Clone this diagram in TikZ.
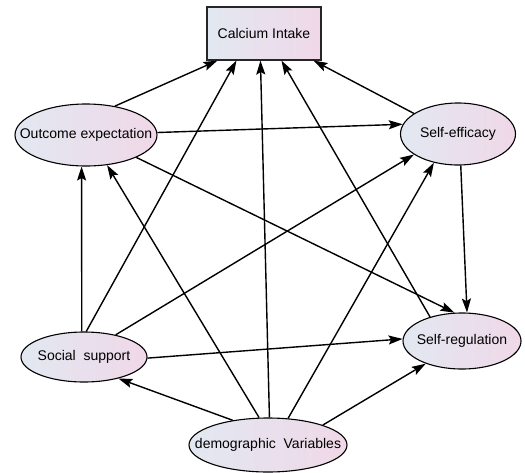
\documentclass[tikz,border=0pt]{standalone}
\usepackage{fontspec}
\setmainfont{Liberation Sans}
\usetikzlibrary{shapes.geometric,arrows.meta}
\definecolor{shL}{RGB}{226,232,241}
\definecolor{shR}{RGB}{240,216,232}
\begin{document}
\begin{tikzpicture}[x=1pt,y=-1pt,
  var/.style={ellipse,draw=black,line width=1.1pt,left color=shL,right color=shR,inner sep=0pt,font=\fontsize{14}{16}\selectfont},
  box/.style={rectangle,draw=black!85,line width=1.1pt,left color=shL,right color=shR,inner sep=0pt,font=\fontsize{14}{16}\selectfont},
  arr/.style={line width=1.4pt,-{Stealth[length=14pt,width=9pt,inset=2.5pt]}}]
\useasboundingbox (0,0) rectangle (525,472);
\node[box,minimum width=114pt,minimum height=53pt] (ci) at (264,33.5) {\makebox[0pt]{Calcium Intake}};
\node[var,minimum width=142pt,minimum height=62pt] (oe) at (86,135) {\makebox[0pt]{Outcome expectation}};
\node[var,minimum width=115pt,minimum height=62pt] (se) at (458,134) {\makebox[0pt]{Self-efficacy}};
\node[var,minimum width=126pt,minimum height=50pt] (ss) at (84,357) {\makebox[0pt]{Social\ \ support}};
\node[var,minimum width=118pt,minimum height=56pt] (sr) at (462,341) {\makebox[0pt]{Self-regulation}};
\node[var,minimum width=158pt,minimum height=54pt] (dv) at (268,445) {\makebox[0pt]{demographic\ \ Variables}};
\draw[arr] (oe.45) -- ([xshift=11pt]ci.south west);
\draw[arr] (ss.85) -- ([xshift=30pt]ci.south west);
\draw[arr] (dv.87) -- ([xshift=54pt]ci.south west);
\draw[arr] (sr.143) -- ([xshift=75pt]ci.south west);
\draw[arr] (se.155) -- ([xshift=107pt]ci.south west);
\draw[arr] (oe.2) -- (se.170);
\draw[arr] (oe.-24) -- (sr.105);
\draw[arr] (se.-85) -- (sr.80);
\draw[arr] (ss.95) -- (oe.-98);
\draw[arr] (ss.35) -- (se.-155);
\draw[arr] (ss.-1) -- (sr.178);
\draw[arr] (dv.145) -- (ss.-32);
\draw[arr] (dv.108) -- (oe.-55);
\draw[arr] (dv.53) -- (se.-130);
\draw[arr] (dv.20) -- (sr.-148);
\end{tikzpicture}
\end{document}
